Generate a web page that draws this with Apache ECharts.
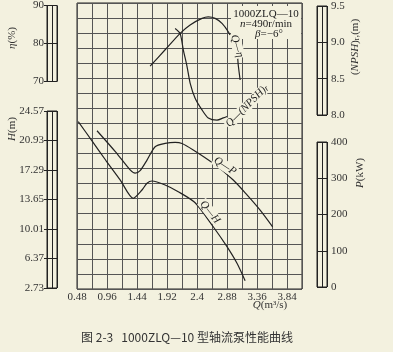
<!DOCTYPE html>
<html>
<head>
<meta charset="utf-8">
<script src="https://cdn.jsdelivr.net/npm/echarts@6/dist/echarts.min.js"></script>
<style>
html, body { margin: 0; padding: 0; background: #f3f1df; }
#chart { width: 393px; height: 352px; }
</style>
</head>
<body>
<div id="chart"></div>
<script>
// Q-H curve
const qH = [0.50, 0.72, 0.94, 1.17, 1.38, 1.52, 1.60, 1.68, 1.89, 2.10, 2.37, 2.66, 2.88, 3.04, 3.17];
const hH = [23.25, 20.89, 18.49, 16.08, 13.80, 14.82, 15.65, 15.93, 15.44, 14.61, 13.25, 10.29, 7.83, 5.78, 3.63];
// Q-P curve
const qP = [0.80, 1.10, 1.33, 1.41, 1.49, 1.60, 1.73, 1.89, 2.05, 2.16, 2.34, 2.66, 2.98, 3.20, 3.41, 3.61];
const pP = [431, 372, 323, 314, 321, 350, 387, 396, 399, 396, 378, 341, 295, 254, 212, 166];
// Q-eta curve
const qEta = [1.65, 1.89, 2.13, 2.29, 2.48, 2.58, 2.69, 2.80, 2.90, 2.98, 3.04, 3.06, 3.09];
const eta = [74.0, 78.3, 82.6, 84.8, 86.5, 86.9, 86.5, 85.2, 83.0, 80.3, 77.7, 74.3, 70.4];
// Q-(NPSH)r curve
const qNpsh = [2.05, 2.13, 2.18, 2.24, 2.29, 2.37, 2.48, 2.58, 2.72, 2.82, 2.88];
const npsh = [9.19, 9.12, 8.90, 8.67, 8.44, 8.23, 8.07, 7.96, 7.93, 7.96, 7.98];

// tick labels
const qLabels = [0.48, 0.96, 1.44, 1.92, 2.4, 2.88, 3.36, 3.84];
const etaTicks = [70, 80, 90];
const hTicks = [2.73, 6.37, 10.01, 13.65, 17.29, 20.93, 24.57];
const npshTicks = [8.0, 8.5, 9.0, 9.5];
const pTicks = [0, 100, 200, 300, 400];

const paper = '#f3f1df';
const ink = '#222';
const gridInk = '#555';
const serif = 'Liberation Serif';

// main grid box (px)
const G = { left: 77, top: 3, width: 225, height: 286 };
const gBottom = G.top + G.height;

// scale bars: pixel y of the top / bottom tick
const bars = {
  eta:  { x: 47,  top: 5,   bottom: 81.5, ticks: etaTicks },
  h:    { x: 47,  top: 111, bottom: 288,  ticks: hTicks },
  npsh: { x: 317, top: 6,   bottom: 115,  ticks: npshTicks },
  p:    { x: 317, top: 142, bottom: 287,  ticks: pTicks }
};

// stretch a bar's scale over the whole main grid height
function span(b) {
  const lo = b.ticks[0], hi = b.ticks[b.ticks.length - 1];
  const k = (hi - lo) / (b.bottom - b.top);
  return { min: lo - (gBottom - b.bottom) * k, max: hi + (b.top - G.top) * k };
}

function barGrid(b) {
  return {
    left: b.x, top: b.top, width: 10, height: b.bottom - b.top,
    show: true, borderColor: ink, borderWidth: 1
  };
}

function barX(gi) {
  return {
    type: 'value', gridIndex: gi, min: 0, max: 2, interval: 1,
    axisLine: { show: false }, axisTick: { show: false }, axisLabel: { show: false },
    splitLine: { show: true, lineStyle: { color: ink, width: 1 } }
  };
}

function barY(gi, b, side, fmt) {
  return {
    type: 'value', gridIndex: gi, position: side,
    min: b.ticks[0], max: b.ticks[b.ticks.length - 1],
    interval: b.ticks[1] - b.ticks[0],
    axisLine: { show: false },
    axisTick: { show: true, length: 3, lineStyle: { color: ink } },
    axisLabel: { margin: side === 'left' ? 3 : 4, color: '#333', fontFamily: serif, fontSize: 11, formatter: fmt },
    splitLine: { show: true, lineStyle: { color: ink, width: 1 } }
  };
}

function hidden(b) {
  const s = span(b);
  return { type: 'value', gridIndex: 0, show: false, min: s.min, max: s.max };
}

function curve(xs, ys, yi) {
  return {
    type: 'line', xAxisIndex: 0, yAxisIndex: yi,
    data: xs.map((x, i) => [x, ys[i]]),
    symbol: 'none', smooth: 0.25, silent: true, z: 3,
    lineStyle: { color: ink, width: 1.2 }
  };
}

function label(text, x, y, deg) {
  return {
    type: 'text', x: x, y: y, rotation: deg * Math.PI / 180, z: 20,
    style: {
      text: text, align: 'center', verticalAlign: 'middle',
      font: 'italic 11px ' + serif, fill: '#222',
      backgroundColor: paper, padding: [0, 1],
      rich: { s: { fontSize: 8, fontStyle: 'italic', verticalAlign: 'bottom' } }
    }
  };
}

function axisName(text, x, y) {
  return {
    type: 'text', x: x, y: y, rotation: Math.PI / 2, z: 20,
    style: {
      text: text, align: 'center', verticalAlign: 'middle',
      font: '11px ' + serif, fill: '#333',
      rich: {
        i: { fontStyle: 'italic', fontSize: 11, fontFamily: serif },
        s: { fontSize: 8, fontFamily: serif, verticalAlign: 'bottom' }
      }
    }
  };
}

const chart = echarts.init(document.getElementById('chart'), null, { renderer: 'canvas' });

chart.setOption({
  backgroundColor: paper,
  animation: false,
  grid: [
    { left: G.left, top: G.top, width: G.width, height: G.height, show: true, borderColor: ink, borderWidth: 1 },
    barGrid(bars.eta), barGrid(bars.h), barGrid(bars.npsh), barGrid(bars.p)
  ],
  xAxis: [
    {
      type: 'value', gridIndex: 0, min: 0.48, max: 4.08, interval: 0.24,
      axisLine: { show: false }, axisTick: { show: false },
      axisLabel: {
        margin: 3, color: '#333', fontFamily: serif, fontSize: 11,
        formatter: v => qLabels.some(t => Math.abs(t - v) < 1e-6) ? String(+v.toFixed(2)) : ''
      },
      splitLine: { show: true, lineStyle: { color: gridInk, width: 1 } }
    },
    barX(1), barX(2), barX(3), barX(4)
  ],
  yAxis: [
    // 19 grid rows
    {
      type: 'value', gridIndex: 0, min: 0, max: 19, interval: 1,
      axisLine: { show: false }, axisTick: { show: false }, axisLabel: { show: false },
      splitLine: { show: true, lineStyle: { color: gridInk, width: 1 } }
    },
    hidden(bars.eta), hidden(bars.h), hidden(bars.npsh), hidden(bars.p),
    barY(1, bars.eta, 'left'),
    barY(2, bars.h, 'left', v => v.toFixed(2)),
    barY(3, bars.npsh, 'right', v => v.toFixed(1)),
    barY(4, bars.p, 'right')
  ],
  series: [
    curve(qEta, eta, 1),
    curve(qNpsh, npsh, 3),
    curve(qH, hH, 2),
    curve(qP, pP, 4)
  ],
  graphic: [
    // pump data box
    { type: 'rect', shape: { x: 231, y: 6, width: 70, height: 33 }, style: { fill: paper }, z: 15 },
    { type: 'text', x: 266, y: 14, z: 20, style: { text: '1000ZLQ—10', align: 'center', verticalAlign: 'middle', font: '11px ' + serif, fill: '#222' } },
    { type: 'text', x: 266, y: 24, z: 20, style: { text: '{i|n}=490r/min', align: 'center', verticalAlign: 'middle', font: '11px ' + serif, fill: '#222', rich: { i: { fontStyle: 'italic', fontFamily: serif, fontSize: 11 } } } },
    { type: 'text', x: 269, y: 34, z: 20, style: { text: '{i|β}=−6°', align: 'center', verticalAlign: 'middle', font: '11px ' + serif, fill: '#222', rich: { i: { fontStyle: 'italic', fontFamily: serif, fontSize: 11 } } } },
    // curve labels
    label('Q—η', 237, 46, -74),
    label('Q—(NPSH){s|r}', 247, 106, 45),
    label('Q—P', 225, 166, -33),
    label('Q—H', 210, 212, -52),
    // axis names
    axisName('{i|η}(%)', 12, 38),
    axisName('{i|H}(m)', 12, 129),
    axisName('({i|NPSH}){s|r},(m)', 355, 47),
    axisName('{i|P}(kW)', 360, 173),
    {
      type: 'text', x: 270, y: 305, z: 20,
      style: { text: '{i|Q}(m³/s)', align: 'center', verticalAlign: 'middle', font: '11px ' + serif, fill: '#333', rich: { i: { fontStyle: 'italic', fontFamily: serif, fontSize: 11 } } }
    },
    {
      type: 'text', x: 187, y: 337, z: 20,
      style: { text: '图 2-3   1000ZLQ—10 型轴流泵性能曲线', align: 'center', verticalAlign: 'middle', font: '12px "Noto Sans CJK SC"', fill: '#333' }
    }
  ]
});
</script>
</body>
</html>
